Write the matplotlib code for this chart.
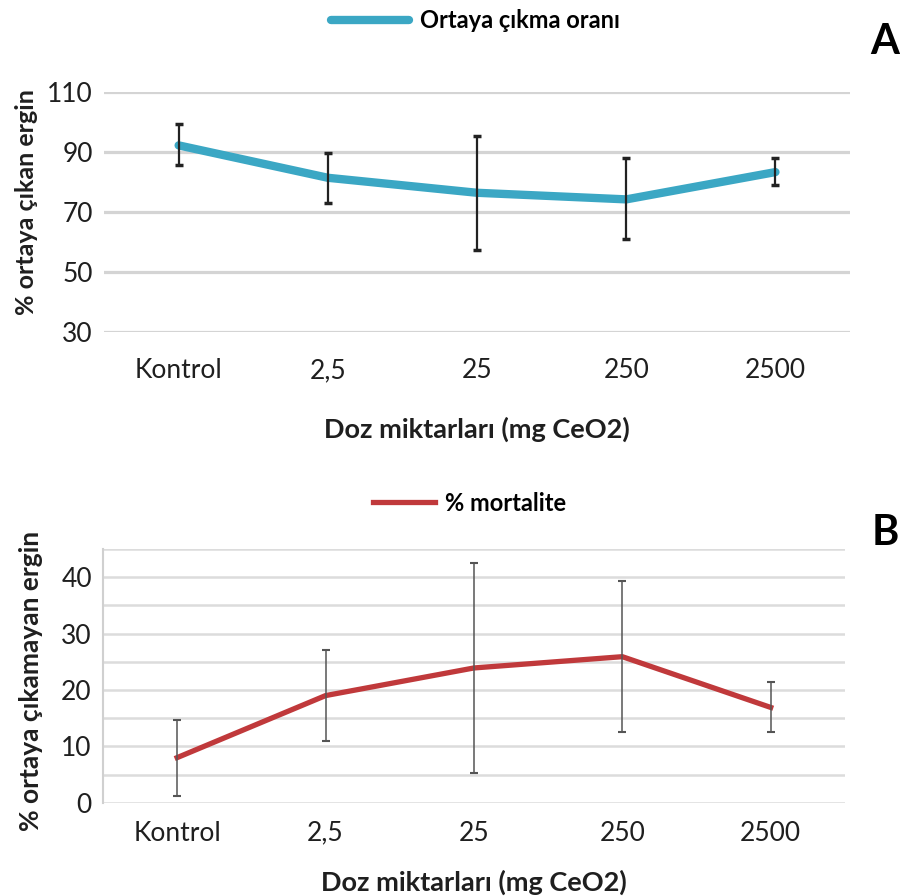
import numpy as np
import matplotlib
matplotlib.use("Agg")
import matplotlib.pyplot as plt

plt.rcParams['font.family'] = ['Lato', 'DejaVu Sans']

doses = ['Kontrol', '2,5', '25', '250', '2500']

# A: emergence rate (%)
emerge_mean = [92.1, 81.3, 76.3, 74.1, 83.2]
emerge_hi = [99.1, 89.4, 95.2, 87.8, 87.8]
emerge_lo = [85.4, 72.8, 57.3, 60.9, 78.8]

# B: mortality (%)
mort_mean = [8.0, 19.0, 23.9, 25.9, 16.9]
mort_hi = [14.7, 27.1, 42.6, 39.4, 21.4]
mort_lo = [1.2, 10.9, 5.3, 12.5, 12.6]

TXT = '#1f1f1f'

fig = plt.figure(figsize=(9, 8.96), dpi=100)

# ---------- panel A ----------
axA = fig.add_axes([0.1156, 0.6298, 0.8289, 0.2679])
x = np.arange(len(doses))
m = np.array(emerge_mean)
yerr = [m - np.array(emerge_lo), np.array(emerge_hi) - m]
axA.plot(x, m, color='#3ba7c4', lw=6, solid_capstyle='round',
         label='Ortaya çıkma oranı', zorder=2)
axA.errorbar(x, m, yerr=yerr, fmt='none', ecolor='#222222', elinewidth=1.6,
             capsize=3, capthick=2.5, zorder=3)
axA.set_xlim(-0.5, 4.5)
axA.set_ylim(30, 110)
axA.set_yticks(np.arange(30, 111, 20))
axA.set_xticks(x)
axA.set_xticklabels(doses)
axA.yaxis.grid(True, color='#d4d4d4', lw=2.3)
axA.set_axisbelow(True)
for s in axA.spines.values():
    s.set_visible(False)
axA.tick_params(length=0, labelsize=19, colors=TXT, pad=8)
axA.tick_params(axis='x', pad=19)
axA.set_ylabel('% ortaya çıkan ergin', fontsize=18, fontweight='bold',
               color=TXT, labelpad=10)
axA.yaxis.set_label_coords(-0.088, 0.54)
axA.set_xlabel('Doz miktarları (mg CeO2)', fontsize=19.5, fontweight='bold',
               color=TXT, labelpad=24)
legA = axA.legend(loc='center', bbox_to_anchor=(0.528, 0.977), bbox_transform=fig.transFigure,
                  frameon=False, handlelength=3.3, handletextpad=0.45,
                  prop={'size': 17, 'weight': 'bold'})
legA.get_lines()[0].set_linewidth(6)
fig.text(0.999, 0.953, 'A', fontsize=30, fontweight='bold', ha='right', va='center')

# ---------- panel B ----------
axB = fig.add_axes([0.1144, 0.1041, 0.8244, 0.2832])
m2 = np.array(mort_mean)
yerr2 = [m2 - np.array(mort_lo), np.array(mort_hi) - m2]
axB.plot(x, m2, color='#c0393b', lw=3.8, label='% mortalite', zorder=2)
axB.errorbar(x, m2, yerr=yerr2, fmt='none', ecolor='#555555', elinewidth=1.1,
             capsize=3, capthick=1.5, zorder=3)
axB.set_xlim(-0.5, 4.5)
axB.set_ylim(0, 45)
axB.set_yticks(np.arange(0, 46, 5), minor=True)
axB.set_yticks(np.arange(0, 41, 10))
axB.set_xticks(x)
axB.set_xticklabels(doses)
axB.yaxis.grid(True, which='both', color='#dcdcdc', lw=1.8)
axB.set_axisbelow(True)
for k, s in axB.spines.items():
    s.set_visible(k == 'left')
axB.spines['left'].set_color('#d0d0d0')
axB.spines['left'].set_linewidth(1.5)
axB.tick_params(which='both', length=0, labelsize=19, colors=TXT, pad=8)
axB.tick_params(axis='x', pad=13)
axB.set_ylabel('% ortaya çıkamayan ergin', fontsize=19, fontweight='bold',
               color=TXT, labelpad=10)
axB.yaxis.set_label_coords(-0.081, 0.48)
axB.set_xlabel('Doz miktarları (mg CeO2)', fontsize=19.5, fontweight='bold',
               color=TXT, labelpad=17)
legB = axB.legend(loc='center', bbox_to_anchor=(0.522, 0.4386), bbox_transform=fig.transFigure,
                  frameon=False, handlelength=2.6, handletextpad=0.45,
                  prop={'size': 17, 'weight': 'bold'})
fig.text(0.999, 0.405, 'B', fontsize=30, fontweight='bold', ha='right', va='center')

fig.savefig('out.png', dpi=100)
